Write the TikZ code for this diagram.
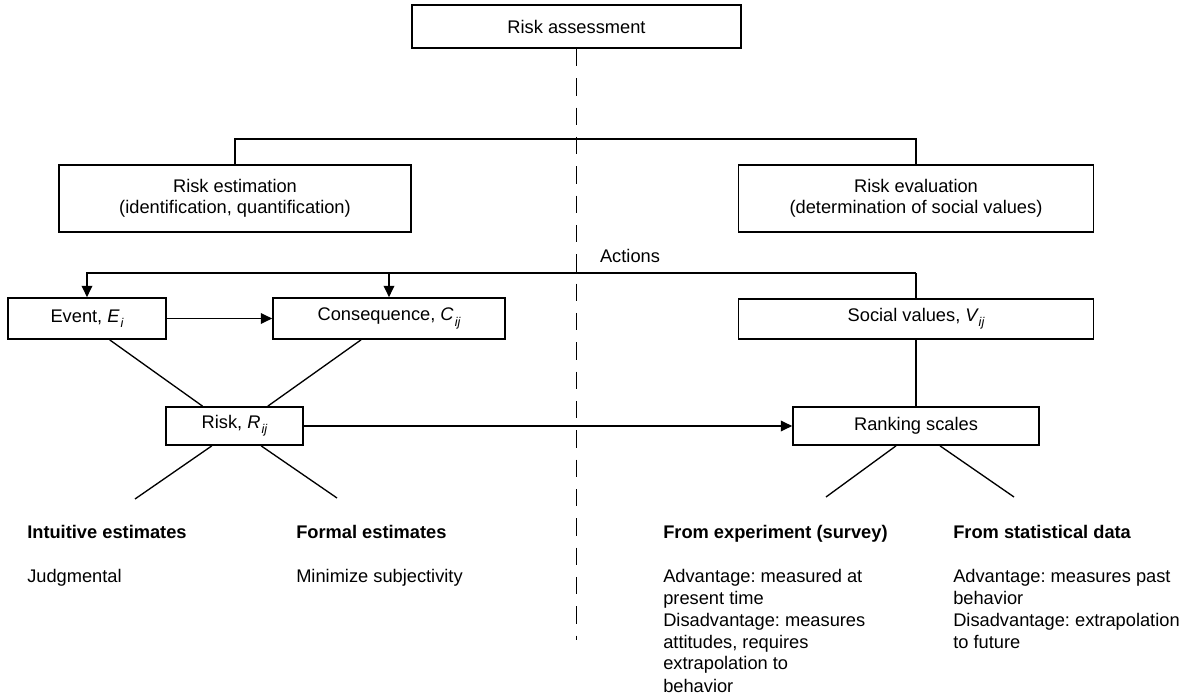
\documentclass[tikz,border=0pt]{standalone}
\usepackage{fontspec}
\setmainfont{Liberation Sans}
\usetikzlibrary{arrows.meta}
\frenchspacing
\newcommand\ssub[2]{{\itshape #1}\kern0.8pt\raisebox{-0.55ex}{\fontsize{9.5}{10}\selectfont\itshape #2}}
\newcommand\plines[1]{\parbox[t]{190pt}{\raggedright\frenchspacing #1}}
\begin{document}
\begin{tikzpicture}[x=0.75pt,y=-0.75pt,
  every node/.style={font=\fontsize{13.7}{16}\selectfont},
  box/.style={draw, line width=1.3pt, inner sep=0pt, align=center},
  sz/.style 2 args={minimum width=#1*0.75pt, minimum height=#2*0.75pt},
  link/.style={line width=1pt},
  arr/.style={line width=1pt, -{Triangle[length=8.5pt,width=8pt]}},
  lbl/.style={anchor=base west, inner sep=0pt, font=\fontsize{13.7}{16.5}\selectfont},
  hd/.style={anchor=base west, inner sep=0pt, font=\fontsize{13.7}{16.5}\selectfont\bfseries},
]
\useasboundingbox (0,0) rectangle (1200,698);

\node[box, sz={329}{43}] (assess) at (576.5,26.5) {Risk assessment};
\node[box, sz={352}{67}] (estim) at (235,198.5) {Risk estimation\\(identification, quantification)};
\node[box, sz={355}{67}] (eval) at (916,198.5) {Risk evaluation\\(determination of social values)};
\node[box, sz={158}{41}] (event) at (87,318.5) {Event, \ssub{E}{i}};
\node[box, sz={232}{41}] (cons) at (389,318.5) {Consequence, \ssub{C}{ij}};
\node[box, sz={355}{40}] (social) at (916,319) {Social values, \ssub{V}{ij}};
\node[box, sz={137}{38}] (risk) at (234.5,426) {Risk, \ssub{R}{ij}};
\node[box, sz={246}{38}] (rank) at (916,426) {Ranking scales};

\node (actions) at (630,256) {Actions};

% dashed divider
\coordinate (dashend) at (576.5,640);
\draw[link, dash pattern=on 13pt off 9pt] (assess.south) -- (dashend);

% top split
\draw[link] (estim.north) -- ++(0,-25) -| (eval.north);

% actions line
\coordinate (act) at (916,273);
\draw[link] (social.north) -- (act);
\draw[arr] (act) -| (event.north);
\draw[arr] (cons.north |- act) -- (cons.north);

\draw[arr] (event.east) -- (cons.west);
\draw[link] ([xshift=17pt]event.south) -- ([xshift=-24pt]risk.north);
\draw[link] ([xshift=-21pt]cons.south) -- ([xshift=25pt]risk.north);
\draw[arr] (risk.east) -- (rank.west);
\draw[link] (social.south) -- (rank.north);

% lower branches
\coordinate (b1) at (135,499);
\coordinate (b2) at (337,498);
\coordinate (b3) at (826,497);
\coordinate (b4) at (1014,497);
\draw[link] ([xshift=-17pt]risk.south) -- (b1);
\draw[link] ([xshift=20pt]risk.south) -- (b2);
\draw[link] ([xshift=-15pt]rank.south) -- (b3);
\draw[link] ([xshift=18pt]rank.south) -- (b4);

% texts
\node[hd] (h1) at (27,538) {Intuitive estimates};
\node[hd] (h2) at (296,538) {Formal estimates};
\node[hd] (h3) at (663,538) {From experiment (survey)};
\node[hd] (h4) at (953,538) {From statistical data};

\node[lbl] (t1) at (27,582) {Judgmental};
\node[lbl] (t2) at (296,582) {Minimize subjectivity};
\node[lbl] (t3) at (663,582) {\plines{Advantage: measured at\\present time\\Disadvantage: measures\\attitudes, requires\\extrapolation to\\behavior}};
\node[lbl] (t4) at (953,582) {\plines{Advantage: measures past\\behavior\\Disadvantage: extrapolation\\to future}};
\end{tikzpicture}
\end{document}
